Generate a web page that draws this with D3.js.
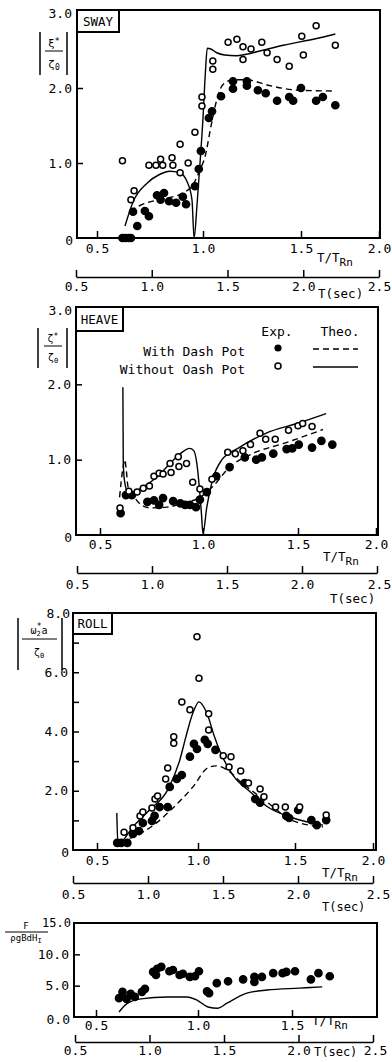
<!DOCTYPE html>
<html><head><meta charset="utf-8">
<script src="https://cdn.jsdelivr.net/npm/d3@7"></script>
<style>
body{margin:0;background:#fff}
svg{display:block}
text{font-family:"DejaVu Sans Mono",monospace;fill:#000}
</style>
</head><body>
<svg id="c" width="392" height="1062"></svg>
<script>
// ---------------- DATA (x = T/T_Rn, y = amplitude) ----------------
const xTickVals = [0.5, 1.0, 1.5, 2.0];
const secTickVals = [0.5, 1.0, 1.5, 2.0, 2.5];

// SWAY
const swayWithExp = [[0.62,0],[0.635,0],[0.65,0],[0.66,0],[0.67,0.35],[0.69,0.16],[0.726,0.36],[0.745,0.29],[0.783,0.57],[0.80,0.51],[0.816,0.6],[0.84,0.49],[0.873,0.47],[0.905,0.55],[0.92,0.45],[0.962,0.69],[0.98,0.92],[0.99,1.16],[1.03,1.6],[1.046,1.69],[1.092,1.89],[1.153,1.99],[1.153,2.09],[1.224,2.09],[1.224,2.03],[1.28,1.97],[1.32,1.93],[1.378,1.83],[1.44,1.88],[1.46,1.83],[1.5,2.0],[1.597,1.83],[1.64,1.88],[1.72,1.77]];
const swayWithoutExp = [[0.62,1.03],[0.66,0.51],[0.675,0.63],[0.745,0.97],[0.778,0.97],[0.80,1.05],[0.81,0.97],[0.854,1.07],[0.858,0.97],[0.892,0.87],[0.93,1.0],[0.892,1.25],[0.962,1.41],[0.995,1.76],[0.995,1.88],[1.05,2.25],[1.05,2.36],[1.128,2.61],[1.173,2.65],[1.204,2.55],[1.204,2.38],[1.245,2.52],[1.30,2.61],[1.327,2.47],[1.378,2.38],[1.44,2.29],[1.505,2.69],[1.515,2.44],[1.597,2.83],[1.72,2.57]];
const swayWithTheo = [[0.656,0.36],[0.70,0.43],[0.736,0.47],[0.83,0.53],[0.905,0.6],[0.953,0.71],[0.986,0.91],[1.01,1.08],[1.04,1.48],[1.07,1.84],[1.10,2.04],[1.153,2.11],[1.224,2.11],[1.327,2.04],[1.49,1.97],[1.72,1.96]];
const swayWithoutTheo = [[0.632,0.16],[0.67,0.48],[0.736,0.73],[0.797,0.85],[0.844,0.89],[0.89,0.87],[0.925,0.75],[0.948,0.51],[0.958,0],[0.972,0.45],[0.986,1.0],[1.0,1.6],[1.012,2.2],[1.022,2.53],[1.04,2.52],[1.07,2.47],[1.11,2.44],[1.17,2.43],[1.22,2.45],[1.3,2.5],[1.41,2.57],[1.6,2.66],[1.72,2.72]];

// HEAVE
const heaveWithExp = [[0.60,0.29],[0.626,0.53],[0.655,0.53],[0.73,0.44],[0.762,0.46],[0.787,0.40],[0.806,0.49],[0.855,0.45],[0.89,0.42],[0.913,0.40],[0.937,0.40],[0.966,0.37],[0.985,0.47],[1.02,0.57],[1.07,0.78],[1.14,0.9],[1.22,1.03],[1.28,1.0],[1.31,1.03],[1.37,1.08],[1.44,1.14],[1.47,1.15],[1.505,1.2],[1.59,1.16],[1.65,1.25],[1.72,1.2]];
const heaveWithoutExp = [[0.597,0.36],[0.64,0.58],[0.68,0.57],[0.71,0.62],[0.74,0.65],[0.762,0.78],[0.787,0.82],[0.806,0.81],[0.84,0.95],[0.845,0.83],[0.88,1.04],[0.883,0.91],[0.92,0.95],[0.95,0.7],[0.985,0.61],[1.047,0.74],[1.13,1.1],[1.17,1.08],[1.21,1.12],[1.25,1.2],[1.30,1.35],[1.33,1.27],[1.38,1.27],[1.45,1.39],[1.5,1.45],[1.53,1.48],[1.59,1.44]];
const heaveWithTheo = [[0.595,0.50],[0.612,0.9],[0.62,1.0],[0.628,0.85],[0.636,0.64],[0.66,0.53],[0.70,0.40],[0.743,0.36],[0.825,0.37],[0.90,0.42],[0.985,0.5],[1.05,0.64],[1.14,0.9],[1.26,1.08],[1.43,1.22],[1.66,1.4]];
const heaveWithoutTheo = [[0.611,1.96],[0.613,0.95],[0.62,0.7],[0.636,0.57],[0.66,0.57],[0.71,0.64],[0.777,0.77],[0.84,0.95],[0.89,1.08],[0.935,1.15],[0.955,1.12],[0.97,0.95],[0.98,0.7],[0.992,0.3],[1.0,0.02],[1.02,0.37],[1.05,0.73],[1.10,1.0],[1.19,1.16],[1.33,1.35],[1.51,1.49],[1.68,1.61]];

// ROLL
const rollWithExp = [[0.60,0.24],[0.62,0.24],[0.65,0.24],[0.678,0.54],[0.708,0.64],[0.727,0.91],[0.772,0.98],[0.785,1.15],[0.81,1.45],[0.85,1.45],[0.86,2.13],[0.895,2.4],[0.92,2.53],[0.96,3.15],[0.98,3.58],[0.995,3.41],[1.035,3.72],[1.05,3.58],[1.09,3.38],[1.24,2.26],[1.295,1.72],[1.32,1.6],[1.455,1.15],[1.47,1.08],[1.52,1.35],[1.605,1.01],[1.64,0.84],[1.70,1.01]];
const rollWithoutExp = [[0.634,0.6],[0.678,0.75],[0.713,1.15],[0.727,1.28],[0.772,1.42],[0.787,1.72],[0.80,1.82],[0.84,2.4],[0.85,2.77],[0.88,3.6],[0.88,3.82],[0.92,5.0],[0.96,4.73],[0.995,7.2],[1.005,5.8],[1.055,4.6],[1.055,4.05],[1.13,3.18],[1.17,3.15],[1.16,2.8],[1.22,2.67],[1.26,2.26],[1.32,2.06],[1.34,1.8],[1.40,1.45],[1.45,1.45],[1.53,1.45],[1.70,1.18]];
const rollWithTheo = [[0.615,0.27],[0.70,0.51],[0.78,0.84],[0.876,1.42],[0.975,2.13],[1.05,2.77],[1.095,2.84],[1.15,2.7],[1.22,2.3],[1.36,1.6],[1.48,1.01],[1.68,0.78]];
const rollWithoutTheo = [[0.598,1.25],[0.604,0.12],[0.615,0.2],[0.678,0.78],[0.76,1.35],[0.85,2.03],[0.91,3.04],[0.94,3.82],[0.975,4.63],[1.005,5.0],[1.045,4.63],[1.085,3.82],[1.11,3.38],[1.18,2.53],[1.27,1.96],[1.36,1.45],[1.49,1.08],[1.68,0.84]];

// FORCE
const forceExp = [[0.613,3.0],[0.63,4.0],[0.65,2.9],[0.67,3.7],[0.69,3.2],[0.725,4.0],[0.74,4.5],[0.78,7.2],[0.794,6.7],[0.80,7.7],[0.82,8.0],[0.86,7.3],[0.877,7.5],[0.91,6.7],[0.926,6.9],[0.96,6.4],[0.985,6.5],[1.005,7.3],[1.048,4.1],[1.059,3.8],[1.10,5.4],[1.16,5.7],[1.24,6.0],[1.30,6.4],[1.30,5.6],[1.34,6.4],[1.40,7.0],[1.45,7.0],[1.47,7.2],[1.516,7.3],[1.60,6.0],[1.64,7.0],[1.70,6.5]];
const forceTheo = [[0.613,0.8],[0.65,2.1],[0.72,2.9],[0.85,3.2],[0.946,3.2],[0.995,2.7],[1.053,1.6],[1.106,1.4],[1.154,2.2],[1.26,3.8],[1.367,4.3],[1.54,4.6],[1.66,4.8]];

// ---------------- DRAWING ----------------
const svg = d3.select("#c");

function drawPanel(c) {
  const g = svg.append("g");
  const x = d3.scaleLinear().domain(c.xDom).range(c.xRng);
  const y = d3.scaleLinear().domain([0, c.yMax]).range([c.b, c.yTop]);

  // x axis (T/T_Rn) with inward ticks
  const xa = g.append("g").attr("transform", `translate(0,${c.b})`)
    .call(d3.axisBottom(x).tickValues(c.xTicks).tickSizeInner(-7).tickSizeOuter(0).tickFormat(d3.format(".1f")));
  xa.select(".domain").remove();
  xa.selectAll("line").attr("stroke", "#000").attr("stroke-width", 1.5);
  xa.selectAll("text").attr("y", c.xLabOff).attr("dy", "0.35em").attr("font-size", 13)
    .attr("font-family", "DejaVu Sans Mono").attr("fill", "#000");

  // y axis
  const ya = g.append("g").attr("transform", `translate(${c.l},0)`)
    .call(d3.axisLeft(y).tickValues(c.yTicks).tickSizeInner(-6).tickSizeOuter(0)
      .tickFormat(d => c.yLabels.includes(d) ? d3.format(".1f")(d) : ""));
  ya.select(".domain").remove();
  ya.selectAll("line").attr("stroke", "#000").attr("stroke-width", 1.5);
  ya.selectAll("text").attr("x", -5).attr("font-size", 13)
    .attr("font-family", "DejaVu Sans Mono").attr("fill", "#000");
  g.append("text").attr("x", c.l - 4).attr("y", c.b + 2).attr("dy", "0.35em")
    .attr("text-anchor", "end").attr("font-size", 13).text(c.zeroLabel);

  // box
  g.append("rect").attr("x", c.l).attr("y", c.t).attr("width", c.r - c.l).attr("height", c.b - c.t)
    .attr("fill", "none").attr("stroke", "#000").attr("stroke-width", 2);

  // secondary axis T(sec)
  const xs = d3.scaleLinear().domain([0.5, 2.5]).range(c.secRng);
  const sa = g.append("g").attr("transform", `translate(0,${c.secY})`)
    .call(d3.axisBottom(xs).tickValues(secTickVals).tickSizeInner(-7).tickSizeOuter(0).tickFormat(d3.format(".1f")));
  sa.select(".domain").attr("stroke", "#000").attr("stroke-width", 1.3);
  sa.selectAll("line").attr("stroke", "#000").attr("stroke-width", 1.5);
  sa.selectAll("text").attr("y", c.secLabOff).attr("dy", "0.35em").attr("font-size", 13)
    .attr("font-family", "DejaVu Sans Mono").attr("fill", "#000")
    .attr("dx", d => d === 2.5 ? c.lastShift : 0);

  // axis titles
  const tr = g.append("text").attr("x", c.trX).attr("y", c.trY).attr("font-size", 12.5);
  tr.append("tspan").text("T/T");
  tr.append("tspan").attr("dy", 4).attr("font-size", 11).text("Rn");
  g.append("text").attr("x", c.tsX).attr("y", c.tsY).attr("font-size", c.tsFs || 12.5).text("T(sec)");

  // lines
  const line = d3.line().x(d => x(d[0])).y(d => y(d[1])).curve(d3.curveMonotoneX);
  (c.lines || []).forEach(L => {
    g.append("path").attr("d", line(L.data)).attr("fill", "none").attr("stroke", "#000")
      .attr("stroke-width", 1.4).attr("stroke-dasharray", L.dashed ? "6,4" : null);
  });
  // points
  (c.points || []).forEach(P => {
    g.selectAll(null).data(P.data).join("circle")
      .attr("cx", d => x(d[0])).attr("cy", d => y(d[1]))
      .attr("r", P.filled ? 3.6 : 3.0)
      .attr("fill", P.filled ? "#000" : "#fff").attr("stroke", "#000").attr("stroke-width", 1.5);
  });

  // panel label box
  if (c.name) {
    g.append("rect").attr("x", c.l).attr("y", c.t).attr("width", c.nameW).attr("height", c.nameH)
      .attr("fill", "#fff").attr("stroke", "#000").attr("stroke-width", 2);
    g.append("text").attr("x", c.l + c.nameW / 2).attr("y", c.t + c.nameH / 2).attr("dy", "0.36em")
      .attr("text-anchor", "middle").attr("font-size", 12.5).attr("font-family", "DejaVu Sans Condensed").text(c.name);
  }
  return g;
}

function fracTitle(o) {
  const g = svg.append("g");
  if (o.bars) {
    [o.bx0, o.bx1].forEach(bx => g.append("line").attr("x1", bx).attr("x2", bx)
      .attr("y1", o.by0).attr("y2", o.by1).attr("stroke", "#000").attr("stroke-width", 1.5));
  }
  g.append("line").attr("x1", o.lx0).attr("x2", o.lx1).attr("y1", o.ly).attr("y2", o.ly)
    .attr("stroke", "#000").attr("stroke-width", 1);
  const n = g.append("text").attr("x", o.cx).attr("y", o.ny).attr("text-anchor", "middle")
    .attr("font-size", o.fs).attr("font-family", "DejaVu Sans");
  o.num(n);
  const d = g.append("text").attr("x", o.cx).attr("y", o.dy).attr("text-anchor", "middle")
    .attr("font-size", o.fs).attr("font-family", "DejaVu Sans");
  o.den(d);
}

// SWAY
drawPanel({name: "SWAY", nameW: 42, nameH: 22,
  l: 77, r: 380, t: 10, b: 238, yTop: 13, yMax: 3,
  xDom: [0.4, 0.5, 1.0, 1.5, 2.0], xRng: [77, 97, 203, 301, 379],
  xTicks: xTickVals, xLabOff: 10,
  yTicks: [1, 2], yLabels: [1, 2, 3], zeroLabel: "0",
  secY: 277, secRng: [76, 379], secLabOff: 9, lastShift: 0,
  trX: 317, trY: 262, tsX: 318, tsY: 298,
  lines: [{data: swayWithTheo, dashed: true}, {data: swayWithoutTheo, dashed: false}],
  points: [{data: swayWithExp, filled: true}, {data: swayWithoutExp, filled: false}]});
svg.append("text").attr("x", 72).attr("y", 13).attr("dy", "0.35em").attr("text-anchor", "end").attr("font-size", 13).text("3.0");

fracTitle({bars: true, bx0: 40, bx1: 67, by0: 32, by1: 75, lx0: 45, lx1: 63, ly: 51, cx: 54, ny: 47, dy: 68, fs: 11,
  num: t => { t.append("tspan").text("ξ"); t.append("tspan").attr("dy", -3).attr("font-size", 9).text("*"); },
  den: t => { t.append("tspan").text("ζ"); t.append("tspan").attr("font-size", 8).attr("dy", 2).text("0"); }});

// HEAVE
drawPanel({name: "HEAVE", nameW: 47, nameH: 24,
  l: 76, r: 378, t: 307, b: 535, yTop: 309, yMax: 3,
  xDom: [0.4, 0.5, 1.0, 1.5, 2.0], xRng: [76, 100, 203, 298, 376],
  xTicks: xTickVals, xLabOff: 9,
  yTicks: [1, 2], yLabels: [1, 2], zeroLabel: "0",
  secY: 573, secRng: [77, 377], secLabOff: 11, lastShift: 2,
  trX: 323, trY: 561, tsX: 330, tsY: 603,
  lines: [{data: heaveWithTheo, dashed: true}, {data: heaveWithoutTheo, dashed: false}],
  points: [{data: heaveWithExp, filled: true}, {data: heaveWithoutExp, filled: false}]});
svg.append("text").attr("x", 72).attr("y", 310).attr("dy", "0.35em").attr("text-anchor", "end").attr("font-size", 13).text("3.0");

fracTitle({bars: true, bx0: 38, bx1: 67, by0: 328, by1: 368, lx0: 44, lx1: 62, ly: 346, cx: 53, ny: 342, dy: 361, fs: 10,
  num: t => { t.append("tspan").text("ζ"); t.append("tspan").attr("dy", -3).attr("font-size", 8).text("*"); },
  den: t => { t.append("tspan").text("ζ"); t.append("tspan").attr("font-size", 7).attr("dy", 2).text("0"); }});

// legend
const lg = svg.append("g").attr("font-size", 13);
lg.append("text").attr("x", 277).attr("y", 336).attr("text-anchor", "middle").text("Exp.");
lg.append("text").attr("x", 340).attr("y", 336).attr("text-anchor", "middle").text("Theo.");
lg.append("text").attr("x", 245).attr("y", 356).attr("text-anchor", "end").text("With Dash Pot");
lg.append("text").attr("x", 245).attr("y", 374).attr("text-anchor", "end").text("Without Oash Pot");
lg.append("circle").attr("cx", 278).attr("cy", 348).attr("r", 3.6).attr("fill", "#000");
lg.append("circle").attr("cx", 278).attr("cy", 366).attr("r", 3).attr("fill", "#fff").attr("stroke", "#000").attr("stroke-width", 1.5);
lg.append("line").attr("x1", 313).attr("x2", 358).attr("y1", 349).attr("y2", 349).attr("stroke", "#000").attr("stroke-width", 1.4).attr("stroke-dasharray", "6,4");
lg.append("line").attr("x1", 313).attr("x2", 358).attr("y1", 367).attr("y2", 367).attr("stroke", "#000").attr("stroke-width", 1.4);

// ROLL
drawPanel({name: "ROLL", nameW: 39, nameH: 21,
  l: 73, r: 376, t: 613, b: 850, yTop: 613, yMax: 8,
  xDom: [0.4, 0.5, 1.0, 1.5, 2.0], xRng: [73, 97, 198, 295, 373],
  xTicks: xTickVals, xLabOff: 10,
  yTicks: [1, 2, 3, 4, 5, 6, 7], yLabels: [2, 4, 6], zeroLabel: "0",
  secY: 883, secRng: [73, 373], secLabOff: 11, lastShift: 5,
  trX: 322, trY: 877, tsX: 322, tsY: 911, tsFs: 12,
  lines: [{data: rollWithTheo, dashed: true}, {data: rollWithoutTheo, dashed: false}],
  points: [{data: rollWithExp, filled: true}, {data: rollWithoutExp, filled: false}]});
svg.append("text").attr("x", 70).attr("y", 613).attr("dy", "0.35em").attr("text-anchor", "end").attr("font-size", 13).text("8.0");

fracTitle({bars: true, bx0: 18, bx1: 62, by0: 618, by1: 670, lx0: 22, lx1: 57, ly: 639, cx: 39, ny: 634, dy: 656, fs: 10,
  num: t => { t.append("tspan").text("ω"); t.append("tspan").attr("font-size", 7).attr("dy", 2).text("2");
              t.append("tspan").attr("font-size", 8).attr("dx", -4).attr("dy", -7).text("*");
              t.append("tspan").attr("dy", 5).text("a"); },
  den: t => { t.append("tspan").text("ζ"); t.append("tspan").attr("font-size", 7).attr("dy", 2).text("0"); }});

// FORCE
drawPanel({name: null,
  l: 74, r: 377, t: 923, b: 1017, yTop: 923, yMax: 15,
  xDom: [0.4, 0.5, 1.0, 1.5, 1.95], xRng: [74, 96, 198, 292, 377],
  xTicks: [0.5, 1.0, 1.5], xLabOff: 8,
  yTicks: [5, 10], yLabels: [5, 10], zeroLabel: "0.0",
  secY: 1042, secRng: [75, 373], secLabOff: 8, lastShift: 2,
  trX: 312, trY: 1025, tsX: 314, tsY: 1056, tsFs: 12,
  lines: [{data: forceTheo, dashed: false}],
  points: [{data: forceExp, filled: true}]});
svg.append("text").attr("x", 71).attr("y", 923).attr("dy", "0.35em").attr("text-anchor", "end").attr("font-size", 12).text("15.0");

fracTitle({bars: false, lx0: 5, lx1: 48, ly: 932, cx: 26, ny: 929, dy: 941, fs: 9,
  num: t => { t.text("F"); },
  den: t => { t.append("tspan").text("ρgBdH"); t.append("tspan").attr("font-size", 7).attr("dy", 2).text("I"); }});
</script>
</body></html>
